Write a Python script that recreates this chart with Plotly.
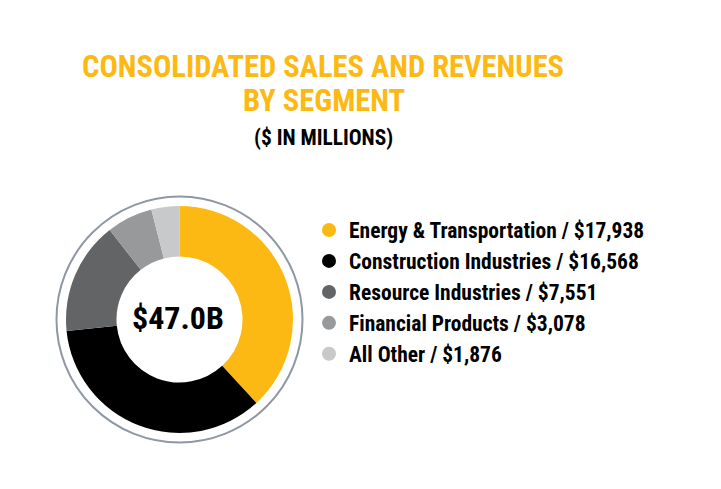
import plotly.graph_objects as go

segments = ["Energy & Transportation", "Construction Industries", "Resource Industries",
            "Financial Products", "All Other"]
values = [17938, 16568, 7551, 3078, 1876]
colors = ["#FDB913", "#000000", "#636466", "#97999B", "#C8C9CB"]
total_label = "$47.0B"

FONT = "Roboto Condensed"
W, H = 721, 489

fig = go.Figure()

# donut geometry (px)
cx, cy, r = 179.5, 319.5, 113.5
cy_b = H - cy
fig.add_trace(go.Pie(
    labels=segments, values=values, sort=False, direction="clockwise", rotation=0,
    hole=0.555, marker=dict(colors=colors, line=dict(width=0)),
    textinfo="none", hoverinfo="label+value", showlegend=False,
    domain=dict(x=[(cx - r) / W, (cx + r) / W], y=[(cy_b - r) / H, (cy_b + r) / H]),
))

# legend entries
for name, val, col in zip(segments, values, colors):
    fig.add_trace(go.Scatter(
        x=[None], y=[None], mode="markers", name=f"<b>{name} / ${val:,}</b>",
        legendgroup=name, marker=dict(color=col, size=14, symbol="circle"),
        hoverinfo="skip",
    ))

R = 123
fig.add_shape(type="circle", xref="paper", yref="paper",
              x0=(cx - R) / W, x1=(cx + R) / W, y0=(cy_b - R) / H, y1=(cy_b + R) / H,
              line=dict(color="#8E98A2", width=2), fillcolor="rgba(0,0,0,0)")

fig.add_annotation(text=f"<b>{total_label}</b>", x=178 / W, y=(H - 318) / H, xref="paper", yref="paper",
                   showarrow=False, font=dict(family=FONT, size=32, color="#000000"),
                   xanchor="center", yanchor="middle")

fig.add_annotation(text="<b>CONSOLIDATED SALES AND REVENUES</b>", x=323 / W, y=(H - 67) / H,
                   xref="paper", yref="paper", showarrow=False, xanchor="center", yanchor="middle",
                   font=dict(family=FONT, size=30.5, color="#FDB913"))
fig.add_annotation(text="<b>BY SEGMENT</b>", x=324 / W, y=(H - 101) / H,
                   xref="paper", yref="paper", showarrow=False, xanchor="center", yanchor="middle",
                   font=dict(family=FONT, size=30.5, color="#FDB913"))
fig.add_annotation(text="<b>($ IN MILLIONS)</b>", x=323 / W, y=(H - 137) / H,
                   xref="paper", yref="paper", showarrow=False, xanchor="center", yanchor="middle",
                   font=dict(family=FONT, size=21.4, color="#000000"))

fig.update_layout(
    width=W, height=H, margin=dict(l=0, r=0, t=0, b=0),
    paper_bgcolor="white", plot_bgcolor="white",
    xaxis=dict(visible=False), yaxis=dict(visible=False),
    legend=dict(x=309 / W, y=(H - 209.5) / H, xanchor="left", yanchor="top",
                traceorder="grouped", tracegroupgap=0,
                font=dict(family=FONT, size=21.5, color="#000000"),
                bgcolor="rgba(0,0,0,0)"),
    font=dict(family=FONT),
)

fig.write_html("out.html", config={"displayModeBar": False},
               post_script="document.body.style.margin='0';")
